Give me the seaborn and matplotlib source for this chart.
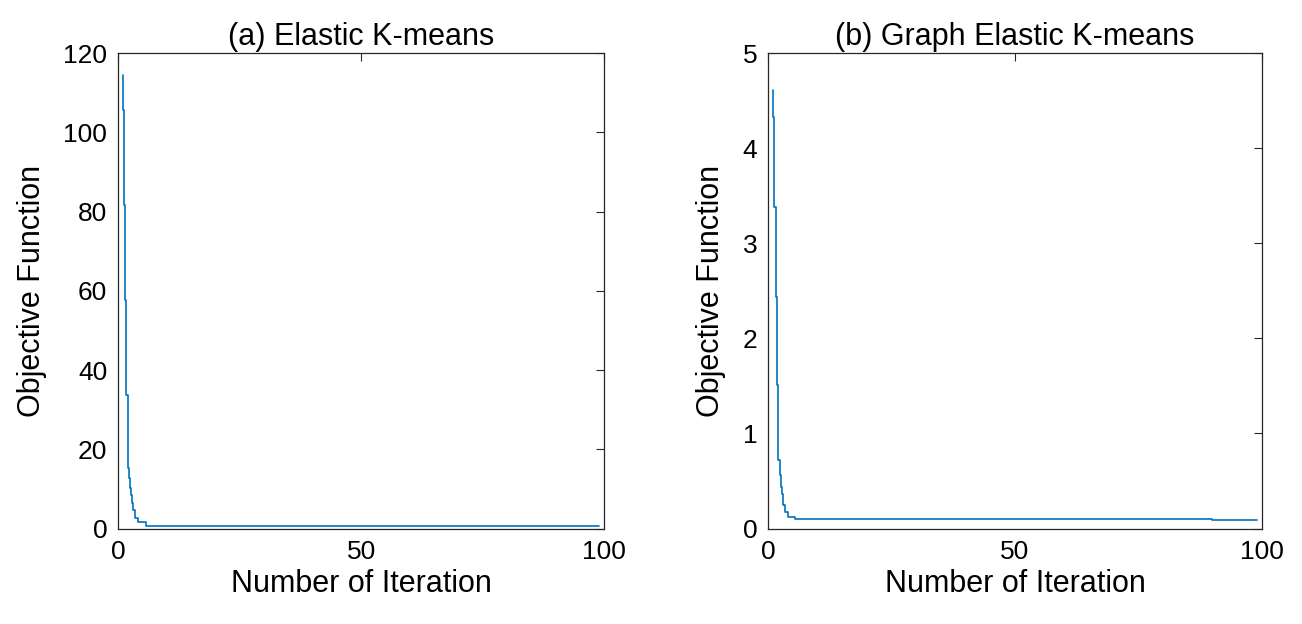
import numpy as np
import pandas as pd
import matplotlib
matplotlib.use("Agg")
import matplotlib.pyplot as plt
import seaborn as sns

# données
titles = ["(a) Elastic K-means", "(b) Graph Elastic K-means"]
x_label = "Number of Iteration"
y_label = "Objective Function"

# (a) Elastic K-means
iter_a = [0.9, 1.2, 1.3, 1.6, 1.9, 2.2, 2.4, 2.6, 2.8, 3.0, 3.4, 4.0, 5.7, 99.0]
obj_a = [114.5, 105.7, 81.6, 57.6, 33.6, 15.2, 12.7, 10.2, 8.4, 6.4, 4.6, 2.6, 1.6, 0.66]

# (b) Graph Elastic K-means
iter_b = [1.0, 1.25, 1.5, 1.8, 2.05, 2.4, 2.6, 2.8, 3.0, 3.4, 4.0, 5.4, 90.0, 99.0]
obj_b = [4.61, 4.33, 3.38, 2.44, 1.51, 0.72, 0.56, 0.44, 0.36, 0.25, 0.17, 0.12, 0.095, 0.085]

ylims = [(0, 120), (0, 5)]
yticks = [np.arange(0, 121, 20), np.arange(0, 6, 1)]

sns.set_theme(style="white")
plt.rcParams['font.family'] = ['Liberation Sans', 'DejaVu Sans']
plt.rcParams['text.color'] = 'black'
plt.rcParams['axes.labelcolor'] = 'black'

fig = plt.figure(figsize=(13.02, 6.24), dpi=100)
ax1 = fig.add_axes([0.0909, 0.153, 0.3731, 0.7616])
ax2 = fig.add_axes([0.5901, 0.153, 0.3790, 0.7616])

for ax, title, xs, ys, yl, yt in zip([ax1, ax2], titles, [iter_a, iter_b], [obj_a, obj_b], ylims, yticks):
    df = pd.DataFrame({"iter": xs, "obj": ys})
    sns.lineplot(data=df, x="iter", y="obj", ax=ax, color="#0072BD", linewidth=1.2,
                 drawstyle="steps-pre", estimator=None, sort=False)
    ax.set_xlim(0, 100)
    ax.set_ylim(*yl)
    ax.set_xticks([0, 50, 100])
    ax.set_yticks(yt)
    ax.set_title(title, fontsize=22, pad=6, color="black")
    ax.set_xlabel(x_label, fontsize=22, labelpad=4)
    ax.set_ylabel(y_label, fontsize=22, labelpad=12)
    ax.tick_params(direction="in", top=True, right=True, length=6, width=0.8,
                   labelsize=19, colors="#262626", labelcolor="black", pad=8)
    for s in ax.spines.values():
        s.set_color("#262626")
        s.set_linewidth(0.9)

fig.savefig("out.png", dpi=100, facecolor="white")
